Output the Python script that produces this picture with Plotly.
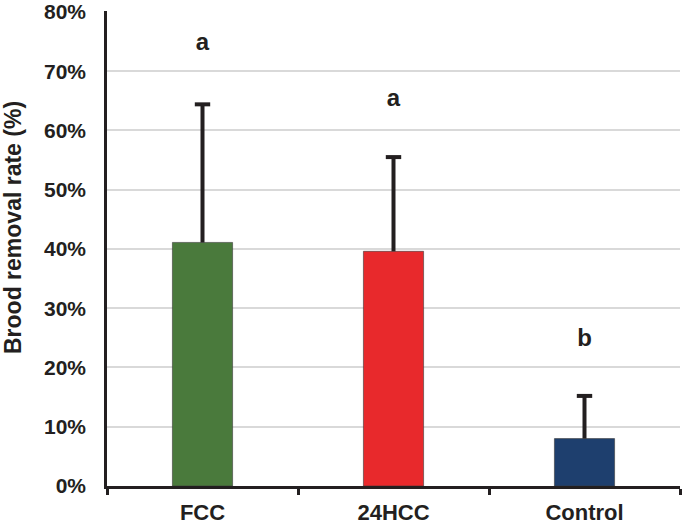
import plotly.graph_objects as go

categories = ["FCC", "24HCC", "Control"]
removal_rate = [41.1, 39.6, 8.0]
error_upper = [23.3, 15.9, 7.2]
letters = ["a", "a", "b"]
letter_pos = [74.6, 65.2, 24.6]
bar_colors = ["#4a7a3c", "#e8292c", "#1e3f6e"]
y_ticks = [0, 10, 20, 30, 40, 50, 60, 70, 80]
y_title = "Brood removal rate (%)"

FONT = "Liberation Sans, Arial, sans-serif"
DARK = "#231f20"
W, H = 685, 527
ML, MR, MT, MB = 107, 5, 11, 41

tops = [v + e for v, e in zip(removal_rate, error_upper)]
stem_x, stem_y = [], []
for c, v, t in zip(categories, removal_rate, tops):
    stem_x += [c, c, None]
    stem_y += [v, t, None]

fig = go.Figure()
fig.add_trace(go.Bar(
    x=categories, y=removal_rate, width=0.315,
    marker=dict(color=bar_colors, line=dict(color="#3a3a3a", width=0.6)),
    showlegend=False, hoverinfo="skip",
))
fig.add_trace(go.Scatter(
    x=stem_x, y=stem_y, mode="lines",
    line=dict(color=DARK, width=4),
    showlegend=False, hoverinfo="skip",
))
fig.add_trace(go.Scatter(
    x=categories, y=tops, mode="markers",
    marker=dict(symbol="line-ew", size=11, line=dict(color=DARK, width=4)),
    showlegend=False, hoverinfo="skip",
))
fig.add_trace(go.Scatter(
    x=categories, y=letter_pos, mode="text", text=letters,
    textfont=dict(family=FONT, size=24, color=DARK, weight="bold"),
    showlegend=False, hoverinfo="skip",
))

pw, ph = W - ML - MR, H - MT - MB
fig.add_annotation(
    text=y_title, textangle=-90, showarrow=False,
    xref="paper", yref="paper",
    x=(13 - ML) / pw, y=(H - MB - 228) / ph,
    xanchor="center", yanchor="middle",
    font=dict(family=FONT, size=23, color=DARK, weight="bold"),
)

fig.update_layout(
    width=W, height=H,
    margin=dict(l=ML, r=MR, t=MT, b=MB),
    plot_bgcolor="white", paper_bgcolor="white",
)
fig.update_xaxes(
    type="category", range=[-0.5, 2.5], automargin=False,
    showline=True, linecolor=DARK, linewidth=2.5,
    ticks="outside", tickson="boundaries", ticklen=6, tickwidth=2.5, tickcolor=DARK,
    showgrid=False, ticklabelstandoff=5,
    tickfont=dict(family=FONT, size=22, color=DARK, weight="bold"),
)
fig.update_yaxes(
    range=[0, 80.15], tickvals=y_ticks, ticktext=[f"{v}%" for v in y_ticks],
    automargin=False,
    showline=True, linecolor=DARK, linewidth=2.5,
    showgrid=True, gridcolor="#d9d9d9", gridwidth=2,
    zeroline=False, ticks="", ticklabelstandoff=14, ticklabeloverflow="allow",
    tickfont=dict(family=FONT, size=21, color=DARK, weight="bold"),
)

fig.write_html("out.html", config={"displayModeBar": False},
               post_script="document.body.style.margin='0';")
